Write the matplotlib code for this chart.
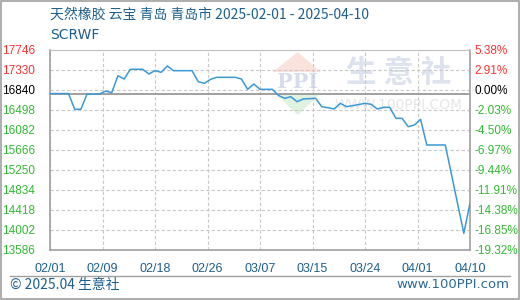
import matplotlib
matplotlib.use("Agg")
import matplotlib.pyplot as plt
from matplotlib.patches import Polygon, Rectangle
from matplotlib.lines import Line2D

# day offset from 2025-02-01 and price (yuan/ton)
DAYS = [0, 3, 4, 5, 6, 8, 9, 10, 11, 12, 13, 15, 16, 17, 18, 19, 20, 23,
        24, 25, 26, 27, 30, 31, 32, 33, 34, 36, 37, 38, 39, 40, 41, 43, 44,
        45, 46, 47, 48, 49, 51, 52, 53, 54, 55, 56, 57, 58, 59, 60, 61, 64,
        67, 68]
PRICES = [16840, 16840, 16513, 16513, 16830, 16830, 16890, 16860, 17211,
          17142, 17345, 17345, 17247, 17316, 17282, 17413, 17316, 17316,
          17087, 17053, 17136, 17178, 17178, 17142, 16928, 17039, 16928,
          16928, 16800, 16741, 16775, 16671, 16727, 16741, 16567, 16546,
          16519, 16637, 16567, 16588, 16637, 16616, 16519, 16554, 16554,
          16325, 16325, 16151, 16186, 16304, 15770, 15770, 13933, 14557]

BASE = 16840
Y_TOP = 17746
Y_STEP = 416
Y_LABELS = ["17746", "17330", "16840", "16498", "16082", "15666",
            "15250", "14834", "14418", "14002", "13586"]
PCT_LABELS = ["5.38%", "2.91%", "0.00%", "-2.03%", "-4.50%", "-6.97%",
              "-9.44%", "-11.91%", "-14.38%", "-16.85%", "-19.32%"]
X_LABELS = ["02/01", "02/09", "02/18", "02/26", "03/07", "03/15",
            "03/24", "04/01", "04/10"]
TOTAL_DAYS = 68

TITLE = "天然橡胶 云宝 青岛 青岛市 2025-02-01 - 2025-04-10"
SUBTITLE = "SCRWF"

RED = "#ff3030"
GREEN = "#33b833"
BLUE_TEXT = "#1d5f8c"
LINE_BLUE = "#3b99d8"
CJK = ["Noto Sans CJK SC", "DejaVu Sans"]
NUM_FONT = "Liberation Sans"


def label_color(i):
    if i < 2:
        return RED
    if i == 2:
        return "black"
    return GREEN


fig = plt.figure(figsize=(5.2, 3.0), dpi=100)
fig.patch.set_facecolor("white")

# outer frame and footer separator
fig.add_artist(Rectangle((0.001, 0.002), 0.997, 0.995, transform=fig.transFigure,
                         fill=False, edgecolor="#a0a0a0", linewidth=1.2))
fig.add_artist(Line2D([10 / 520, 510 / 520], [1 - 275.5 / 300] * 2,
                      transform=fig.transFigure, color="#a0a0a0", linewidth=1))

ax = fig.add_axes([50 / 520, 50 / 300, 420 / 520, 200 / 300])

y_ticks = [Y_TOP - Y_STEP * i for i in range(len(Y_LABELS))]
x_ticks = [TOTAL_DAYS * i / (len(X_LABELS) - 1) for i in range(len(X_LABELS))]

# watermark
ax.add_patch(Polygon([[0.535, 0.785], [0.59, 0.675], [0.645, 0.785]], closed=True,
                     transform=ax.transAxes, facecolor="#dff2df", edgecolor="none", zorder=0))
ax.add_patch(Polygon([[0.53, 0.89], [0.59, 0.99], [0.645, 0.89]], closed=True,
                     transform=ax.transAxes, facecolor="#fbe3dd", edgecolor="none", zorder=0))
ax.text(0.59, 0.84, "PPI", transform=ax.transAxes, ha="center", va="center",
        fontsize=15, fontweight="bold", color="#d6dcec", family="DejaVu Serif", zorder=0)
ax.text(0.83, 0.885, "生 意 社", transform=ax.transAxes, ha="center", va="center",
        fontsize=22, fontweight="bold", color="#dde3ee", family=CJK, zorder=0)
ax.text(0.83, 0.725, "WWW.100PPI.COM", transform=ax.transAxes, ha="center", va="center",
        fontsize=10, color="#e6e6e6", zorder=0)

ax.plot(DAYS, PRICES, color=LINE_BLUE, linewidth=1.1, zorder=3)
ax.axhline(BASE, color="#999999", linewidth=1.3, zorder=2)

ax.set_xlim(0, TOTAL_DAYS)
ax.set_ylim(y_ticks[-1], y_ticks[0])
ax.set_xticks(x_ticks)
ax.set_xticklabels(X_LABELS, family=NUM_FONT)
ax.set_yticks(y_ticks)
ax.set_yticklabels(Y_LABELS, family=NUM_FONT)
ax.grid(True, color="#c8c8c8", linestyle=(0, (3, 2)), linewidth=0.8)

ax.tick_params(axis="x", length=0, pad=9, labelsize=9, labelcolor=BLUE_TEXT)
ax.tick_params(axis="y", length=0, pad=11, labelsize=8.5)
for i, lbl in enumerate(ax.get_yticklabels()):
    lbl.set_color(label_color(i))

for side in ["left", "bottom", "right"]:
    ax.spines[side].set_color("#a0a0a0")
    ax.spines[side].set_linewidth(1.2)
ax.spines["top"].set_color("#c0c0c0")

ax2 = ax.twinx()
ax2.set_ylim(ax.get_ylim())
ax2.set_yticks(y_ticks)
ax2.set_yticklabels(PCT_LABELS, family=NUM_FONT)
ax2.tick_params(axis="y", length=0, pad=3, labelsize=8.5)
for i, lbl in enumerate(ax2.get_yticklabels()):
    lbl.set_color(label_color(i))
for side in ax2.spines:
    ax2.spines[side].set_visible(False)

fig.text(50 / 520, 1 - 15 / 300, TITLE, ha="left", va="center",
         fontsize=10, color=BLUE_TEXT, family=CJK)
fig.text(50 / 520, 1 - 35 / 300, SUBTITLE, ha="left", va="center",
         fontsize=10, color=BLUE_TEXT)
fig.text(10 / 520, 1 - 285 / 300, "© 2025.04 生意社", ha="left", va="center",
         fontsize=10, color=BLUE_TEXT, family=CJK)
fig.text(509 / 520, 1 - 285 / 300, "www.100PPI.com", ha="right", va="center",
         fontsize=9.5, color="#2b6a98")

fig.savefig("out.png", dpi=100)
